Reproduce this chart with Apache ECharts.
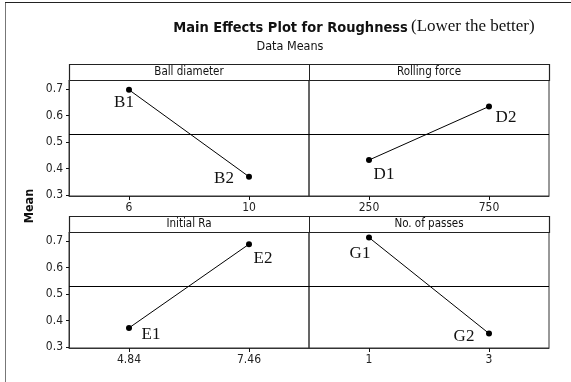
<!DOCTYPE html>
<html><head><meta charset="utf-8">
<script src="https://cdn.jsdelivr.net/npm/echarts@6/dist/echarts.min.js"></script>
<style>html,body{margin:0;padding:0;background:#fff}#c{width:571px;height:382px}</style>
</head><body><div id="c"></div>
<script>
// ---- data ----
const factors = ['Ball diameter', 'Rolling force', 'Initial Ra', 'No. of passes'];
const levelsBall = ['6', '10'];
const levelsForce = ['250', '750'];
const levelsRa = ['4.84', '7.46'];
const levelsPasses = ['1', '3'];
const meansBall = [0.697, 0.369];
const meansForce = [0.432, 0.634];
const meansRa = [0.372, 0.688];
const meansPasses = [0.713, 0.351];
const pointLabelsBall = ['B1', 'B2'];
const pointLabelsForce = ['D1', 'D2'];
const pointLabelsRa = ['E1', 'E2'];
const pointLabelsPasses = ['G1', 'G2'];
const grandMean = 0.531;
const yTickValues = [0.3, 0.4, 0.5, 0.6, 0.7];

// ---- layout / style ----
const levels = [levelsBall, levelsForce, levelsRa, levelsPasses];
const means = [meansBall, meansForce, meansRa, meansPasses];
const pointLabels = [pointLabelsBall, pointLabelsForce, pointLabelsRa, pointLabelsPasses];
const labelOffsets = [
  [[-5, 13], [-25, 2]],
  [[15, 15], [17, 11]],
  [[22, 7], [14, 14]],
  [[-9, 16], [-25, 3]]
];
const gridPos = [
  {left: 69, top: 80}, {left: 309, top: 80},
  {left: 69, top: 232}, {left: 309, top: 232}
];
const PW = 240, PH = 116;
const sansFont = '"DejaVu Sans Condensed", "DejaVu Sans", sans-serif';
const serifFont = '"Liberation Serif", "DejaVu Serif", serif';

const chart = echarts.init(document.getElementById('c'), null, {renderer: 'canvas'});

const grids = gridPos.map(g => ({left: g.left, top: g.top, width: PW, height: PH,
  show: true, borderColor: '#333', borderWidth: 1, backgroundColor: 'transparent'}));

const xAxes = levels.map((lv, i) => ({
  type: 'category', gridIndex: i, data: lv, boundaryGap: true,
  axisLine: {show: true, lineStyle: {color: '#333', width: 1}},
  axisTick: {show: true, alignWithLabel: true, length: 4, lineStyle: {color: '#111'}},
  axisLabel: {fontFamily: sansFont, fontSize: 12, color: '#222', margin: 6},
  splitLine: {show: false}
}));

const yAxes = levels.map((lv, i) => {
  const left = (i % 2 === 0);
  return {
    type: 'value', gridIndex: i, min: 0.2962, max: 0.734,
    axisLine: {show: left, lineStyle: {color: '#333', width: 1}},
    axisTick: {show: left, length: 3, customValues: yTickValues, lineStyle: {color: '#111'}},
    axisLabel: {show: left, customValues: yTickValues, fontFamily: sansFont, fontSize: 12, color: '#222', margin: 6,
      formatter: v => v.toFixed(1)},
    splitLine: {show: false}
  };
});

const series = means.map((m, i) => ({
  type: 'line', xAxisIndex: i, yAxisIndex: i,
  data: m.map((v, j) => ({value: v, label: {offset: labelOffsets[i][j]}})),
  symbol: 'circle', symbolSize: 6,
  lineStyle: {color: '#000', width: 1},
  itemStyle: {color: '#000'},
  label: {show: true, position: 'inside', align: 'center', verticalAlign: 'middle',
    formatter: p => pointLabels[i][p.dataIndex],
    fontFamily: serifFont, fontSize: 17, color: '#111'},
  markLine: {silent: true, symbol: 'none', label: {show: false},
    lineStyle: {color: '#000', width: 1, type: 'solid'},
    data: [{yAxis: grandMean}]},
  animation: false
}));

const graphics = [];
// outer border (left and top)
graphics.push({type: 'line', shape: {x1: 5.5, y1: 2.5, x2: 5.5, y2: 382}, style: {stroke: '#777', lineWidth: 1}});
graphics.push({type: 'line', shape: {x1: 5, y1: 2.5, x2: 571, y2: 2.5}, style: {stroke: '#222', lineWidth: 1}});
// strip headers
[64, 216].forEach((y, r) => {
  graphics.push({type: 'rect', shape: {x: 69.5, y: y + 0.5, width: 480, height: 16}, style: {fill: '#fff', stroke: '#222', lineWidth: 1.2}});
  graphics.push({type: 'line', shape: {x1: 309.5, y1: y, x2: 309.5, y2: y + 16}, style: {stroke: '#222', lineWidth: 1}});
  [0, 1].forEach(c => {
    graphics.push({type: 'text', x: 69 + PW * c + PW / 2, y: y + 8.5,
      style: {text: factors[r * 2 + c], font: '11.5px ' + sansFont, fill: '#111', textAlign: 'center', textVerticalAlign: 'middle'}});
  });
});
// y axis name
graphics.push({type: 'text', x: 30, y: 206, rotation: Math.PI / 2,
  style: {text: 'Mean', font: 'bold 12.5px ' + sansFont, fill: '#111', textAlign: 'center', textVerticalAlign: 'middle'}});
// titles
graphics.push({type: 'text', x: 290.5, y: 28.5,
  style: {text: 'Main Effects Plot for Roughness', font: 'bold 14.5px ' + sansFont, fill: '#111', textAlign: 'center', textVerticalAlign: 'middle'}});
graphics.push({type: 'text', x: 411, y: 27,
  style: {text: '(Lower the better)', font: '17px ' + serifFont, fill: '#111', textAlign: 'left', textVerticalAlign: 'middle'}});
graphics.push({type: 'text', x: 290, y: 47,
  style: {text: 'Data Means', font: '12.5px ' + sansFont, fill: '#111', textAlign: 'center', textVerticalAlign: 'middle'}});

chart.setOption({
  animation: false,
  backgroundColor: '#fff',
  grid: grids, xAxis: xAxes, yAxis: yAxes, series: series,
  graphic: graphics
});
</script></body></html>
